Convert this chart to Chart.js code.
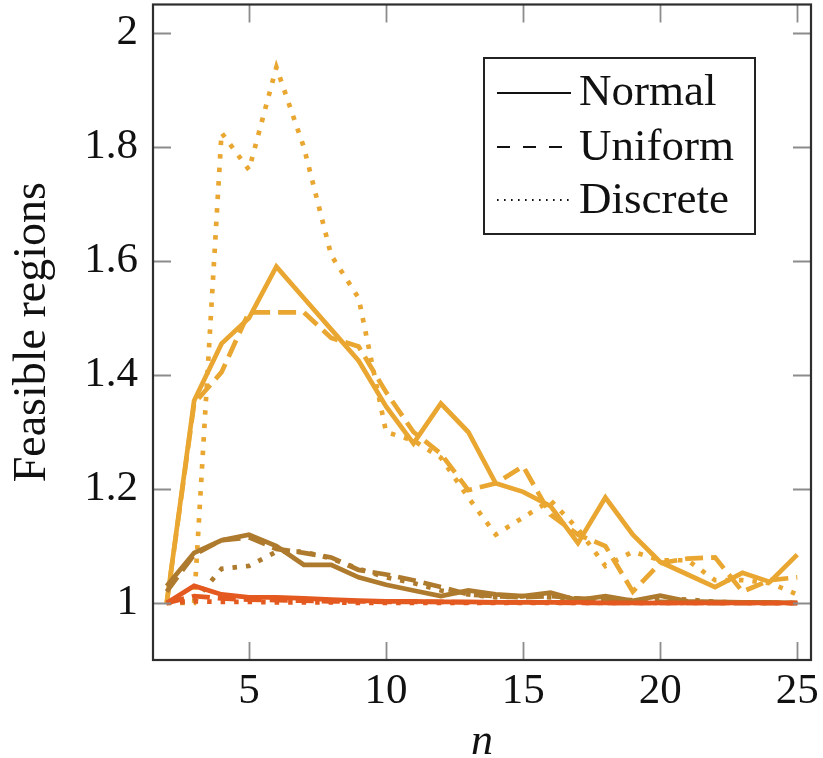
<!DOCTYPE html>
<html>
<head>
<meta charset="utf-8">
<script src="https://cdn.jsdelivr.net/npm/chart.js@4.4.1/dist/chart.umd.min.js"></script>
<style>
  html, body { margin: 0; padding: 0; background: #ffffff; }
  #wrap { width: 823px; height: 758px; }
</style>
</head>
<body>
<div id="wrap"><canvas id="c" width="823" height="758"></canvas></div>
<script>
// Problem size n
const nValues = [2, 3, 4, 5, 6, 7, 8, 9, 10, 11, 12, 13, 14, 15, 16, 17, 18, 19, 20, 21, 22, 23, 24, 25];

// Upper group (light orange)
const normalHigh   = [1.0, 1.355, 1.455, 1.50, 1.59, 1.535, 1.48, 1.425, 1.345, 1.28, 1.35, 1.30, 1.21, 1.195, 1.17, 1.105, 1.185, 1.12, 1.072, 1.05, 1.028, 1.053, 1.037, 1.085];
const uniformHigh  = [1.0, 1.35, 1.405, 1.51, 1.51, 1.51, 1.465, 1.45, 1.37, 1.30, 1.262, 1.198, 1.21, 1.24, 1.155, 1.12, 1.10, 1.02, 1.07, 1.078, 1.08, 1.02, 1.04, 1.045];
const discreteHigh = [1.0, 1.0, 1.825, 1.76, 1.94, 1.80, 1.61, 1.535, 1.30, 1.285, 1.255, 1.185, 1.12, 1.15, 1.18, 1.13, 1.065, 1.09, 1.075, 1.075, 1.04, 1.04, 1.035, 1.015];

// Middle group (brown)
const normalMid   = [1.03, 1.088, 1.11, 1.12, 1.10, 1.067, 1.067, 1.045, 1.032, 1.022, 1.012, 1.022, 1.015, 1.012, 1.018, 1.005, 1.012, 1.004, 1.013, 1.003, 1.002, 1.001, 1.001, 1.0];
const uniformMid  = [1.02, 1.085, 1.11, 1.115, 1.095, 1.088, 1.08, 1.058, 1.05, 1.04, 1.028, 1.015, 1.012, 1.01, 1.012, 1.008, 1.005, 1.003, 1.002, 1.001, 1.0, 1.0, 1.0, 1.0];
const discreteMid = [1.0, 1.003, 1.06, 1.065, 1.09, 1.09, 1.078, 1.06, 1.045, 1.035, 1.022, 1.015, 1.01, 1.012, 1.01, 1.008, 1.006, 1.005, 1.008, 1.006, 1.002, 1.001, 1.0, 1.0];

// Lower group (red-orange)
const normalLow   = [1.0, 1.03, 1.015, 1.01, 1.01, 1.008, 1.006, 1.004, 1.003, 1.003, 1.002, 1.002, 1.001, 1.001, 1.001, 1.001, 1.0, 1.0, 1.0, 1.0, 1.0, 1.0, 1.0, 1.0];
const uniformLow  = [1.0, 1.012, 1.008, 1.006, 1.005, 1.004, 1.003, 1.003, 1.002, 1.002, 1.002, 1.001, 1.001, 1.001, 1.001, 1.0, 1.0, 1.0, 1.0, 1.0, 1.0, 1.0, 1.0, 1.0];
const discreteLow = [1.0, 1.003, 1.002, 1.002, 1.001, 1.001, 1.001, 1.0, 1.0, 1.0, 1.0, 1.0, 1.0, 1.0, 1.0, 1.0, 1.0, 1.0, 1.0, 1.0, 1.0, 1.0, 1.0, 1.0];

const xTicks = [5, 10, 15, 20, 25];
const yTicks = [1, 1.2, 1.4, 1.6, 1.8, 2];
const legendLabels = ['Normal', 'Uniform', 'Discrete'];

const COLOR_HIGH = '#E9A732';
const COLOR_MID  = '#AE7A2E';
const COLOR_LOW  = '#E4591F';

const STYLE_SOLID  = [];
const STYLE_DASHED = [18, 8];
const STYLE_DOTTED = [4.5, 9];

const SERIF = '"Liberation Serif", "DejaVu Serif", serif';

function pts(values) {
  return nValues.map((n, i) => ({ x: n, y: values[i] }));
}

function series(label, values, color, dash) {
  return {
    label,
    data: pts(values),
    borderColor: color,
    backgroundColor: color,
    borderWidth: 4.7,
    borderDash: dash,
    borderCapStyle: 'butt',
    borderJoinStyle: 'miter',
    pointRadius: 0,
    pointHoverRadius: 0,
    tension: 0,
    fill: false
  };
}

// First dataset is painted last (on top)
const datasets = [
  series('Normal (low)',    normalLow,    COLOR_LOW,  STYLE_SOLID),
  series('Uniform (low)',   uniformLow,   COLOR_LOW,  STYLE_DASHED),
  series('Discrete (low)',  discreteLow,  COLOR_LOW,  STYLE_DOTTED),
  series('Normal (mid)',    normalMid,    COLOR_MID,  STYLE_SOLID),
  series('Uniform (mid)',   uniformMid,   COLOR_MID,  STYLE_DASHED),
  series('Discrete (mid)',  discreteMid,  COLOR_MID,  STYLE_DOTTED),
  series('Normal (high)',   normalHigh,   COLOR_HIGH, STYLE_SOLID),
  series('Uniform (high)',  uniformHigh,  COLOR_HIGH, STYLE_DASHED),
  series('Discrete (high)', discreteHigh, COLOR_HIGH, STYLE_DOTTED)
];

// Axis frame, inward tick marks on all four sides, and the boxed legend
const framePlugin = {
  id: 'frameAndLegend',
  afterDatasetsDraw(chart) {
    const { ctx, chartArea: a, scales } = chart;
    const xs = scales.x, ys = scales.y;
    const tl = 18;
    ctx.save();
    ctx.lineCap = 'butt';
    ctx.strokeStyle = '#8c8c8c';
    ctx.lineWidth = 1.8;
    ctx.beginPath();
    xs.ticks.forEach(t => {
      const px = Math.round(xs.getPixelForValue(t.value)) + 0.5;
      ctx.moveTo(px, a.bottom); ctx.lineTo(px, a.bottom - tl);
      ctx.moveTo(px, a.top);    ctx.lineTo(px, a.top + tl);
    });
    ys.ticks.forEach(t => {
      const py = Math.round(ys.getPixelForValue(t.value)) + 0.5;
      ctx.moveTo(a.left, py);  ctx.lineTo(a.left + tl, py);
      ctx.moveTo(a.right, py); ctx.lineTo(a.right - tl, py);
    });
    ctx.stroke();

    ctx.strokeStyle = '#2e2e2e';
    ctx.lineWidth = 2.2;
    ctx.strokeRect(a.left, a.top, a.right - a.left, a.bottom - a.top);

    // legend
    const bx = 484, by = 58, bw = 271, bh = 176;
    ctx.fillStyle = '#ffffff';
    ctx.fillRect(bx, by, bw, bh);
    ctx.strokeStyle = '#222222';
    ctx.lineWidth = 2;
    ctx.strokeRect(bx, by, bw, bh);

    const rows = [93, 147, 200];
    const dashes = [[], [13, 13], [1.6, 5.4]];
    ctx.strokeStyle = '#111111';
    rows.forEach((ry, i) => {
      ctx.setLineDash(dashes[i]);
      ctx.lineWidth = i === 0 ? 2 : 1.8;
      ctx.beginPath();
      ctx.moveTo(497, ry);
      ctx.lineTo(571, ry);
      ctx.stroke();
    });
    ctx.setLineDash([]);
    ctx.fillStyle = '#111111';
    ctx.font = '45px ' + SERIF;
    ctx.textBaseline = 'alphabetic';
    ctx.textAlign = 'left';
    const baselines = [105, 160, 213];
    legendLabels.forEach((txt, i) => ctx.fillText(txt, 579, baselines[i]));
    ctx.restore();
  }
};

new Chart(document.getElementById('c'), {
  type: 'line',
  data: { datasets },
  options: {
    responsive: false,
    animation: false,
    events: [],
    layout: { padding: { top: 4.5, right: 12, left: 0, bottom: 0 } },
    plugins: {
      legend: { display: false },
      tooltip: { enabled: false }
    },
    scales: {
      x: {
        type: 'linear',
        min: 1.5,
        max: 25.5,
        afterBuildTicks: s => { s.ticks = xTicks.map(v => ({ value: v })); },
        afterFit: s => { s.height = 98; s.paddingLeft = 0; s.paddingRight = 0; },
        grid: { display: false, drawTicks: false },
        border: { display: false },
        ticks: {
          padding: 6,
          color: '#111111',
          font: { family: SERIF, size: 43 },
          maxRotation: 0,
          callback: v => String(v)
        },
        title: {
          display: true,
          text: 'n',
          color: '#111111',
          font: { family: SERIF, size: 44, style: 'italic', lineHeight: 1 },
          padding: { top: 0, bottom: -6 }
        }
      },
      y: {
        type: 'linear',
        min: 0.9,
        max: 2.05,
        afterBuildTicks: s => { s.ticks = yTicks.map(v => ({ value: v })); },
        afterFit: s => { s.width = 153; s.paddingTop = 0; s.paddingBottom = 0; },
        grid: { display: false, drawTicks: false },
        border: { display: false },
        ticks: {
          padding: 15,
          color: '#111111',
          font: { family: SERIF, size: 43 },
          callback: v => String(Math.round(v * 10) / 10)
        },
        title: {
          display: true,
          text: 'Feasible regions',
          color: '#111111',
          font: { family: SERIF, size: 46, lineHeight: 1.2 },
          padding: { top: 5, bottom: 0 }
        }
      }
    }
  },
  plugins: [framePlugin]
});
</script>
</body>
</html>
